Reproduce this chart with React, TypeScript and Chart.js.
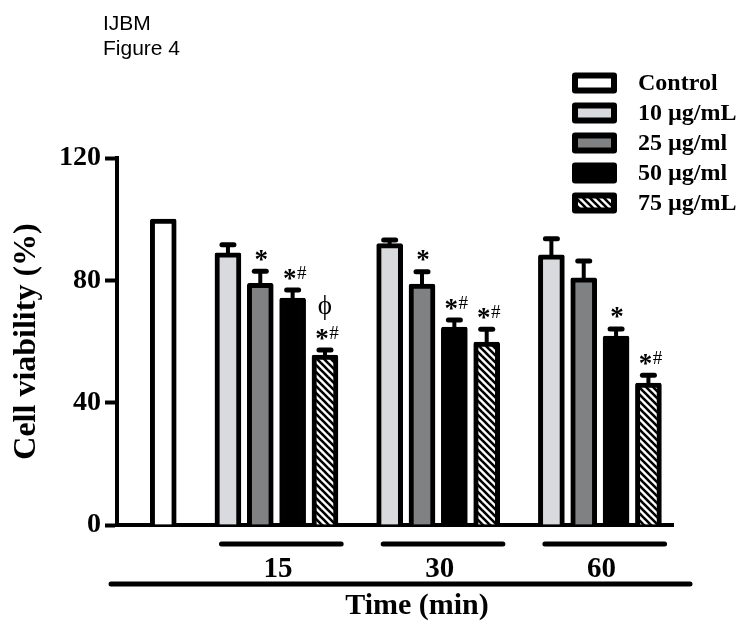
import React, { useEffect, useRef } from "react";
import { Chart, registerables } from "chart.js";

Chart.register(...registerables);

// ---------- data ----------
const seriesNames = ["Control", "10 µg/mL", "25 µg/ml", "50 µg/ml", "75 µg/mL"];
const groupLabels = ["15", "30", "60"];
const xAxisTitle = "Time (min)";
const yAxisTitle = "Cell viability (%)";
const yTicks = [0, 40, 80, 120];

const controlValue = [100];
const controlErr = [0];
const means10 = [89, 92, 88.3];
const err10 = [2.6, 1.2, 5.3];
const means25 = [79, 78.8, 80.8];
const err25 = [4, 4, 5.5];
const means50 = [74.2, 64.7, 61.8];
const err50 = [2.6, 2.3, 2.3];
const means75 = [55.6, 59.8, 46.4];
const err75 = [1.6, 4.2, 2.6];

const sig10 = ["", "", ""];
const sig25 = ["*", "*", ""];
const sig50 = ["*#", "*#", "*"];
const sig75 = ["*#", "*#", "*#"];
const phi75 = ["ϕ", "", ""];

// slot layout (bar positions along the linear x axis)
const controlSlot = 0;
const groupStart = [2, 7, 12];

const SERIF = "'Liberation Serif', 'Times New Roman', serif";
const SANS = "'Liberation Sans', Arial, sans-serif";

function makeHatch(): CanvasPattern | string {
  const s = 7;
  const c = document.createElement("canvas");
  c.width = s;
  c.height = s;
  const g = c.getContext("2d");
  if (!g) return "#888";
  g.fillStyle = "#fff";
  g.fillRect(0, 0, s, s);
  g.strokeStyle = "#000";
  g.lineWidth = 2.6;
  for (const k of [-1, 0, 1]) {
    g.beginPath();
    g.moveTo(-1, k * s - 1);
    g.lineTo(s + 1, s + k * s + 1);
    g.stroke();
  }
  return g.createPattern(c, "repeat") || "#888";
}

function drawCentered(ctx: CanvasRenderingContext2D, text: string, x: number, cy: number, align: CanvasTextAlign = "center") {
  ctx.textAlign = align;
  ctx.textBaseline = "alphabetic";
  const m = ctx.measureText(text);
  const asc = m.actualBoundingBoxAscent;
  const desc = m.actualBoundingBoxDescent;
  ctx.fillText(text, x, cy + (asc - desc) / 2);
}

export default function App() {
  const ref = useRef<HTMLCanvasElement | null>(null);

  useEffect(() => {
    const canvas = ref.current;
    if (!canvas) return;
    const hatch = makeHatch();
    const fills: (string | CanvasPattern)[] = ["#ffffff", "#d9dadd", "#808183", "#000000", hatch];
    const meansList = [means10, means25, means50, means75];
    const errs = [controlErr, err10, err25, err50, err75];
    const sigs = [null, sig10, sig25, sig50, sig75];

    const common = {
      borderColor: "#000",
      borderWidth: 5,
      barThickness: 26,
      grouped: false,
      borderRadius: { topLeft: 2, topRight: 2, bottomLeft: 0, bottomRight: 0 },
      borderSkipped: "start",
    };

    const datasets: any[] = [
      {
        label: seriesNames[0],
        data: controlValue.map((v) => ({ x: controlSlot, y: v })),
        backgroundColor: fills[0],
        ...common,
      },
      ...meansList.map((arr, si) => ({
        label: seriesNames[si + 1],
        data: arr.map((v, gi) => ({ x: groupStart[gi] + si, y: v })),
        backgroundColor: fills[si + 1],
        ...common,
      })),
    ];

    const decor = {
      id: "decor",
      afterDatasetsDraw(chart: any) {
        const ctx: CanvasRenderingContext2D = chart.ctx;
        const ys = chart.scales.y;
        ctx.save();
        // error bars
        errs.forEach((arr, di) => {
          const meta = chart.getDatasetMeta(di);
          meta.data.forEach((el: any, i: number) => {
            const e = arr[i];
            if (!e) return;
            const v = chart.data.datasets[di].data[i].y;
            const top = ys.getPixelForValue(v);
            const cap = ys.getPixelForValue(v + e);
            ctx.strokeStyle = "#000";
            ctx.lineCap = "butt";
            ctx.lineWidth = 4;
            ctx.beginPath();
            ctx.moveTo(el.x, top + 2);
            ctx.lineTo(el.x, cap);
            ctx.stroke();
            ctx.lineWidth = 5;
            ctx.lineCap = "round";
            ctx.beginPath();
            ctx.moveTo(el.x - 6, cap);
            ctx.lineTo(el.x + 6, cap);
            ctx.stroke();
          });
        });
        // significance marks
        ctx.fillStyle = "#000";
        sigs.forEach((arr, di) => {
          if (!arr) return;
          const meta = chart.getDatasetMeta(di);
          meta.data.forEach((el: any, i: number) => {
            const s = arr[i];
            const v = chart.data.datasets[di].data[i].y;
            const cap = ys.getPixelForValue(v + errs[di][i]);
            if (s) {
              const hasHash = s.includes("#");
              ctx.font = `bold 27px ${SERIF}`;
              drawCentered(ctx, "*", el.x + (hasHash ? -3 : 1), cap - 16);
              if (hasHash) {
                ctx.font = `19px ${SERIF}`;
                drawCentered(ctx, "#", el.x + 9, cap - 18);
              }
            }
            if (di === 4 && phi75[i]) {
              ctx.font = `27px ${SERIF}`;
              drawCentered(ctx, phi75[i], el.x, cap - 43);
            }
          });
        });
        ctx.restore();
      },
      afterDraw(chart: any) {
        const ctx: CanvasRenderingContext2D = chart.ctx;
        const xs = chart.scales.x;
        ctx.save();
        ctx.fillStyle = "#000";
        ctx.strokeStyle = "#000";
        // header text
        ctx.font = `21px ${SANS}`;
        ctx.textAlign = "left";
        ctx.textBaseline = "alphabetic";
        ctx.fillText("IJBM", 103, 30);
        ctx.fillText("Figure 4", 103, 55);

        // legend
        const lx = 572, lw = 45, lh = 21, ly0 = 83, step = 30;
        seriesNames.forEach((name, i) => {
          const cy = ly0 + i * step;
          ctx.beginPath();
          (ctx as any).roundRect(lx, cy - lh / 2, lw, lh, 3);
          ctx.fillStyle = "#000";
          ctx.fill();
          ctx.fillStyle = fills[i] as any;
          ctx.fillRect(lx + 6, cy - lh / 2 + 6, lw - 12, lh - 12);
          ctx.fillStyle = "#000";
          ctx.font = `bold 24px ${SERIF}`;
          ctx.textAlign = "left";
          ctx.textBaseline = "middle";
          ctx.fillText(name, 638, cy + 1);
        });

        // group lines + labels
        ctx.lineCap = "round";
        groupLabels.forEach((lab, gi) => {
          const c = groupStart[gi] + 1.5;
          const x1 = xs.getPixelForValue(c - 1.7);
          const x2 = xs.getPixelForValue(c + 2.0);
          ctx.lineWidth = 5;
          ctx.beginPath();
          ctx.moveTo(x1, 544);
          ctx.lineTo(x2, 544);
          ctx.stroke();
          ctx.font = `bold 29px ${SERIF}`;
          drawCentered(ctx, lab, xs.getPixelForValue(c + 0.05), 567);
        });
        // long time line
        ctx.lineWidth = 5;
        ctx.beginPath();
        ctx.moveTo(111, 584);
        ctx.lineTo(690, 584);
        ctx.stroke();
        ctx.font = `bold 30px ${SERIF}`;
        drawCentered(ctx, xAxisTitle, 417, 607);
        ctx.restore();
      },
    };

    const chart = new Chart(canvas, {
      type: "bar",
      data: { datasets },
      options: {
        responsive: false,
        animation: false,
        events: [],
        layout: { padding: { top: 158, right: 79, left: 0, bottom: 0 } },
        plugins: { legend: { display: false }, tooltip: { enabled: false }, title: { display: false } },
        scales: {
          x: {
            type: "linear",
            min: -1.43,
            max: 15.76,
            offset: false,
            ticks: { display: false },
            grid: { display: true, drawOnChartArea: false, drawTicks: false, color: "#000" },
            border: { display: true, color: "#000", width: 4 },
            afterFit: (s: any) => {
              s.height = 101;
            },
          },
          y: {
            min: 0,
            max: 120,
            afterBuildTicks: (s: any) => {
              s.ticks = yTicks.map((v) => ({ value: v }));
            },
            ticks: {
              color: "#000",
              padding: 4,
              font: { family: SERIF, size: 28, weight: "bold" },
            },
            grid: { drawOnChartArea: false, drawTicks: true, tickLength: 12, tickWidth: 4, tickColor: "#000", color: "#000" },
            border: { display: true, color: "#000", width: 4 },
            title: {
              display: true,
              text: yAxisTitle,
              color: "#000",
              font: { family: SERIF, size: 32, weight: "bold" },
              padding: { top: 8, bottom: 0 },
            },
            afterFit: (s: any) => {
              s.width = 117;
            },
          },
        },
      },
      plugins: [decor],
    } as any);
    return () => chart.destroy();
  }, []);

  return (
    <div style={{ position: "absolute", left: 0, top: 0, width: 752, height: 626, background: "#fff" }}>
      <canvas ref={ref} width={752} height={626} />
    </div>
  );
}
